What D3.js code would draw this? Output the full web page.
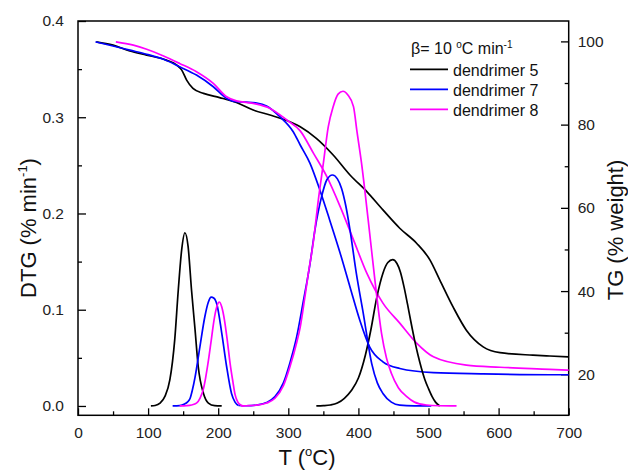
<!DOCTYPE html>
<html>
<head>
<meta charset="utf-8">
<script src="https://cdn.jsdelivr.net/npm/d3@7"></script>
<style>
  html, body { margin: 0; padding: 0; background: #fff; overflow: hidden; }
  svg { display: block; font-family: 'Liberation Sans', Arial, sans-serif; }
</style>
</head>
<body>
<svg width="628" height="470"></svg>
<script>
const svg = d3.select('svg');

const width = +svg.attr('width');
const height = +svg.attr('height');

// TG curves (right axis), [T, % weight]
const tg5 = [[26,99.9],[50,99.1],[74,97.7],[98,96.7],[126,95.5],[141,94.3],[148,93.1],[155,90.7],[164,88.7],[179,87.5],[202,86.5],[226,85.3],[250,83.5],[274,82.3],[293,81.3],[317,79.5],[340,76.7],[364,72.7],[388,67.9],[412,63.9],[435,59.5],[459,55.1],[483,51.5],[502,47.5],[516,42.7],[535,36.2],[554,30.6],[578,26.6],[602,25.2],[649,24.6],[673,24.4],[700,24.2]];
const tg7 = [[25,99.9],[50,98.9],[74,97.9],[98,96.9],[122,95.7],[145,93.9],[169,91.9],[193,89.1],[212,86.3],[226,85.5],[240,85.4],[255,85.2],[269,84.5],[288,81.9],[307,78.3],[317,75.1],[331,70.7],[345,64.3],[359,57.1],[374,49.1],[388,41.0],[402,33.0],[416,26.6],[435,23.0],[459,21.4],[507,20.4],[578,20.1],[673,19.9],[700,19.9]];
const tg8 = [[54,99.9],[79,99.1],[98,98.1],[122,96.5],[145,94.7],[169,92.7],[193,89.9],[212,86.7],[226,85.7],[250,85.1],[274,83.9],[298,81.1],[317,78.5],[336,73.1],[355,67.5],[374,60.3],[393,52.3],[412,44.3],[435,37.1],[459,32.3],[483,27.5],[507,24.2],[554,22.2],[602,21.7],[673,21.2],[700,21.0]];

// DTG peaks (left axis), [T, % min-1]
const dtg5a = [[104,0],[110,0.0005],[117,0.003],[124,0.010],[131,0.027],[138,0.069],[143,0.12],[148,0.163],[152.5,0.180],[157,0.166],[162,0.12],[167,0.079],[171.5,0.041],[179,0.013],[186,0.003],[195,0.0003],[205,0]];
const dtg5b = [[340,0],[350,0.0003],[360,0.001],[370,0.003],[380,0.008],[390,0.016],[400,0.029],[410,0.053],[418,0.080],[426,0.112],[435,0.138],[442,0.149],[449,0.152],[455,0.148],[460,0.139],[465,0.124],[470,0.106],[475,0.087],[480,0.069],[485,0.053],[490,0.039],[495,0.027],[500,0.018],[505,0.010],[510,0.004],[516,0]];
const dtg7a = [[135,0],[145,0.0003],[152,0.002],[156,0.004],[160,0.008],[163,0.016],[167,0.030],[174,0.062],[181,0.093],[186,0.108],[190,0.113],[194,0.112],[198,0.106],[205,0.076],[212,0.041],[219,0.013],[224,0.004],[229,0.0005]];
const dtg7b = [[229,0.0005],[240,0.0002],[255,0.001],[269,0.0035],[281,0.0097],[293,0.024],[302,0.044],[312,0.072],[321,0.107],[331,0.148],[338,0.183],[347.5,0.2175],[355,0.235],[363,0.240],[370,0.236],[376,0.226],[382,0.208],[388,0.183],[397,0.138],[407,0.096],[419,0.044],[427,0.024],[435,0.013],[447,0.004],[459,0.0008],[480,0.0001],[504,0]];
const dtg8a = [[145,0],[155,0.0003],[162,0.001],[169,0.003],[174,0.008],[179,0.018],[182,0.029],[186,0.047],[190,0.068],[194,0.089],[198,0.103],[201.5,0.108],[205,0.103],[209,0.089],[213,0.068],[217,0.044],[221,0.025],[224,0.012],[228,0.004],[232,0.001],[236,0]];
const dtg8b = [[233,0],[240,0.0002],[255,0.0008],[269,0.003],[281,0.008],[293,0.021],[302,0.040],[312,0.066],[317,0.082],[321,0.100],[328,0.135],[336,0.172],[343,0.215],[350,0.252],[357,0.290],[364,0.311],[371,0.324],[378,0.327],[385,0.323],[393,0.311],[398,0.285],[404.5,0.252],[414,0.193],[423.5,0.131],[433,0.0755],[440,0.050],[447,0.034],[457,0.019],[469,0.0097],[480,0.004],[497,0.001],[515,0.0002],[540,0]];

const names = ['dendrimer 5', 'dendrimer 7', 'dendrimer 8'];
const colors = ['#000000', '#0000ff', '#ff00ff'];

const xTicks = [0, 100, 200, 300, 400, 500, 600, 700];
const xMinor = [50, 150, 250, 350, 450, 550, 650];
const dtgTicks = [0, 0.1, 0.2, 0.3, 0.4];
const dtgMinor = [0.05, 0.15, 0.25, 0.35];
const tgTicks = [20, 40, 60, 80, 100];
const tgMinor = [30, 50, 70, 90];

const margin = { top: 21, right: 59.3, bottom: 54.7, left: 78 };
const innerWidth = width - margin.left - margin.right;
const innerHeight = height - margin.top - margin.bottom;

const xScale = d3.scaleLinear().domain([0, 700]).range([0, innerWidth]);
const yScale = d3.scaleLinear().domain([-0.0097, 0.4]).range([innerHeight, 0]);
const tgScale = d3.scaleLinear().domain([10.15, 104.9]).range([innerHeight, 0]);

const g = svg.append('g')
  .attr('transform', `translate(${margin.left},${margin.top})`);

//style an axis group after d3 has drawn it
const styleAxis = (sel, size) => {
  sel.attr('font-size', size).attr('font-family', null);
  sel.select('.domain').remove();
  sel.selectAll('line').attr('stroke', '#000').attr('stroke-width', 1.3);
  sel.selectAll('text').attr('fill', '#222');
};

//major + minor ticks, pointing inward
g.append('g')
  .attr('transform', `translate(0,${innerHeight})`)
  .call(d3.axisBottom(xScale).tickValues(xTicks).tickSizeInner(-7).tickSizeOuter(0).tickPadding(12).tickFormat(d3.format('d')))
  .call(styleAxis, 15.5);
g.append('g')
  .attr('transform', `translate(0,${innerHeight})`)
  .call(d3.axisBottom(xScale).tickValues(xMinor).tickSizeInner(-4).tickSizeOuter(0).tickFormat(''))
  .call(styleAxis, 15.5);

g.append('g')
  .call(d3.axisLeft(yScale).tickValues(dtgTicks).tickSizeInner(-8).tickSizeOuter(0).tickPadding(14).tickFormat(d3.format('.1f')))
  .call(styleAxis, 15.5);
g.append('g')
  .call(d3.axisLeft(yScale).tickValues(dtgMinor).tickSizeInner(-4).tickSizeOuter(0).tickFormat(''))
  .call(styleAxis, 15.5);

g.append('g')
  .attr('transform', `translate(${innerWidth},0)`)
  .call(d3.axisRight(tgScale).tickValues(tgTicks).tickSizeInner(-7.7).tickSizeOuter(0).tickPadding(9).tickFormat(d3.format('d')))
  .call(styleAxis, 15.5);
g.append('g')
  .attr('transform', `translate(${innerWidth},0)`)
  .call(d3.axisRight(tgScale).tickValues(tgMinor).tickSizeInner(-4).tickSizeOuter(0).tickFormat(''))
  .call(styleAxis, 15.5);

//frame
g.append('rect')
  .attr('width', innerWidth)
  .attr('height', innerHeight)
  .attr('fill', 'none')
  .attr('stroke', '#000')
  .attr('stroke-width', 1.5);

//curves
const dtgLine = d3.line()
  .x(d => xScale(d[0]))
  .y(d => yScale(d[1]))
  .curve(d3.curveMonotoneX);
const tgLine = d3.line()
  .x(d => xScale(d[0]))
  .y(d => tgScale(d[1]))
  .curve(d3.curveMonotoneX);

const tgSets = [tg5, tg7, tg8];
const dtgSets = [[dtg5a, dtg5b], [dtg7a, dtg7b], [dtg8a, dtg8b]];

tgSets.forEach((pts, i) => {
  g.append('path')
    .attr('d', tgLine(pts))
    .attr('fill', 'none')
    .attr('stroke', colors[i])
    .attr('stroke-width', 1.7);
});
dtgSets.forEach((segs, i) => {
  segs.forEach(pts => {
    g.append('path')
      .attr('d', dtgLine(pts))
      .attr('fill', 'none')
      .attr('stroke', colors[i])
      .attr('stroke-width', 1.7);
  });
});

//legend
const legend = svg.append('g').attr('font-size', 16).attr('fill', '#111');
const beta = legend.append('text').attr('x', 411).attr('y', 54);
beta.append('tspan').text('β= 10 ');
beta.append('tspan').attr('font-size', 10).attr('dy', -6).text('o');
beta.append('tspan').attr('dy', 6).text('C min');
beta.append('tspan').attr('font-size', 10).attr('dy', -6).text('-1');

names.forEach((name, i) => {
  const y = 69.3 + i * 20;
  legend.append('line')
    .attr('x1', 410).attr('x2', 448)
    .attr('y1', y).attr('y2', y)
    .attr('stroke', colors[i])
    .attr('stroke-width', 1.7);
  legend.append('text')
    .attr('x', 453).attr('y', y + 6.5)
    .text(name);
});

//axis titles
const titles = svg.append('g').attr('font-size', 22).attr('fill', '#111');

const xTitle = titles.append('text')
  .attr('x', 307).attr('y', 465)
  .attr('text-anchor', 'middle');
xTitle.append('tspan').text('T (');
xTitle.append('tspan').attr('font-size', 13).attr('dy', -9).text('o');
xTitle.append('tspan').attr('dy', 9).text('C)');

const yTitle = titles.append('text')
  .attr('transform', 'translate(36,228) rotate(-90)')
  .attr('text-anchor', 'middle');
yTitle.append('tspan').text('DTG (% min');
yTitle.append('tspan').attr('font-size', 13).attr('dy', -9).text('-1');
yTitle.append('tspan').attr('dy', 9).text(')');

titles.append('text')
  .attr('transform', 'translate(623,230) rotate(-90)')
  .attr('text-anchor', 'middle')
  .text('TG (% weight)');
</script>
</body>
</html>
